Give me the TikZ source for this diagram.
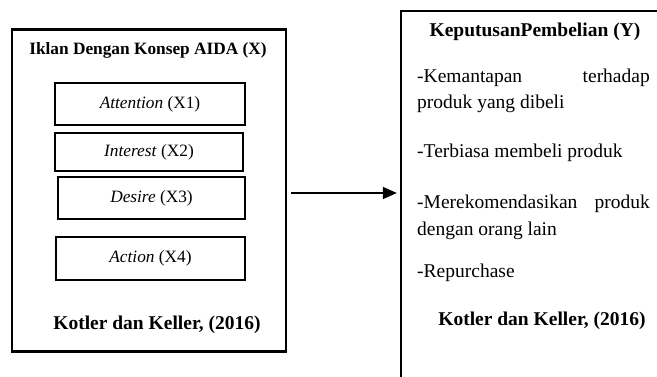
\documentclass[tikz,border=0pt]{standalone}
\usepackage{fontspec}
\setmainfont{Liberation Serif}
\usetikzlibrary{arrows.meta}
\begin{document}
\begin{tikzpicture}[x=1pt,y=-1pt,
  outerbox/.style={draw, line width=2.3pt, inner sep=0pt},
  itembox/.style={draw, line width=1.5pt, inner sep=0pt, font=\fontsize{17.3}{20}\selectfont},
  smallbold/.style={font=\fontsize{17.3}{20}\selectfont\bfseries},
  bigtext/.style={font=\fontsize{19.5}{23}\selectfont, inner sep=0pt},
  bigbold/.style={font=\fontsize{19.5}{23}\selectfont\bfseries, inner sep=0pt},
  conn/.style={line width=1.6pt, -{Triangle[length=14pt,width=12pt]}}]
\useasboundingbox (0,0) rectangle (657,376);
\begin{scope}
\clip (0,0) rectangle (657,376);
% left box
\node[outerbox, minimum width=274pt, minimum height=322pt] (L) at (149,190.5) {};
\node[smallbold] (Lt) at (148,50) {Iklan Dengan Konsep AIDA (X)};
\node[itembox, minimum width=190pt, minimum height=42pt] (A) at (150,104) {\textit{Attention} (X1)};
\node[itembox, minimum width=188pt, minimum height=38pt] (I) at (149,152) {\textit{Interest} (X2)};
\node[itembox, minimum width=187pt, minimum height=42pt] (D) at (151.5,198) {\textit{Desire} (X3)};
\node[itembox, minimum width=189pt, minimum height=43pt] (Ac) at (150.5,258.5) {\textit{Action} (X4)};
\node[bigbold, anchor=mid] (Lk) at (157,327) {Kotler dan Keller, (2016)};
% right box (runs off the page on the right and bottom)
\node[outerbox, minimum width=319pt, minimum height=409pt] (R) at (560.5,215.5) {};
\node[bigbold, anchor=mid] (Rt) at (535,34) {KeputusanPembelian (Y)};
\node[bigtext, anchor=mid west] (r1a) at (417,80) {-Kemantapan};
\node[bigtext, anchor=mid east] (r1b) at (650,80) {terhadap};
\node[bigtext, anchor=mid west] (r2) at (417,106) {produk yang dibeli};
\node[bigtext, anchor=mid west] (r3) at (417,155) {-Terbiasa membeli produk};
\node[bigtext, anchor=mid west] (r4a) at (417,206) {-Merekomendasikan};
\node[bigtext, anchor=mid east] (r4b) at (650,206) {produk};
\node[bigtext, anchor=mid west] (r5) at (417,233) {dengan orang lain};
\node[bigtext, anchor=mid west] (r6) at (417,275) {-Repurchase};
\node[bigbold, anchor=mid] (Rk) at (542,323) {Kotler dan Keller, (2016)};
% connector
\coordinate (s) at ([shift={(4,2.5)}]L.east);
\draw[conn, shorten >=3pt] (s) -- (s -| R.west);
\end{scope}
\end{tikzpicture}
\end{document}
